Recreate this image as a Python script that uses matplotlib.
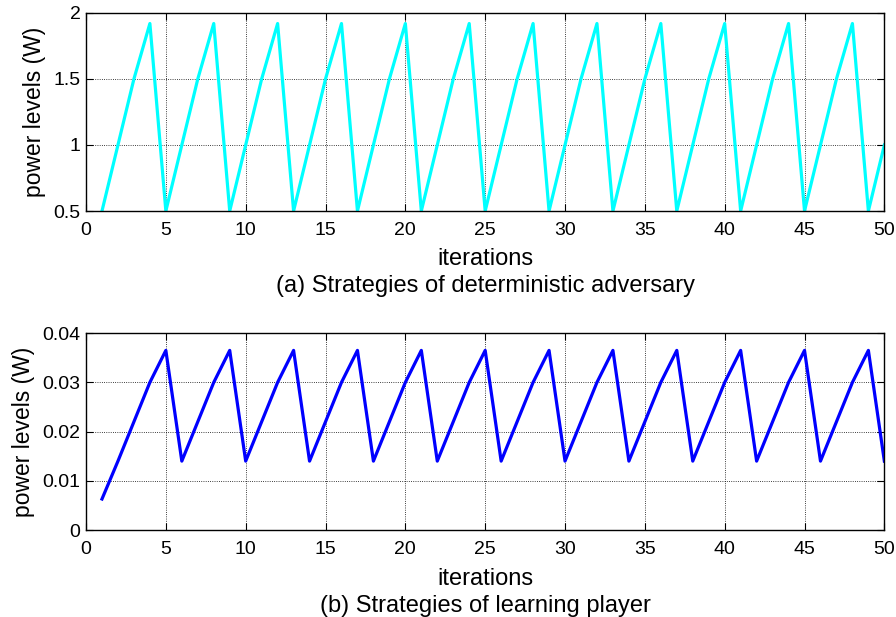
import numpy as np
import matplotlib.pyplot as plt

plt.rcParams['font.family'] = ['Liberation Sans', 'DejaVu Sans']

iters = np.arange(1, 51)

# deterministic adversary: repeating 4-step ramp
adv_cycle = [0.5, 1.0, 1.5, 1.92]
adversary = [adv_cycle[(i - 1) % 4] for i in iters]

# learning player: first value, then a repeating ramp from iteration 2
player_first = 0.0063
player_cycle = [0.014, 0.022, 0.030, 0.0365]
player = [player_first] + [player_cycle[(i - 2) % 4] for i in iters[1:]]

xticks = np.arange(0, 51, 5)
adv_yticks = [0.5, 1, 1.5, 2]
adv_ylabels = ['0.5', '1', '1.5', '2']
pl_yticks = [0, 0.01, 0.02, 0.03, 0.04]
pl_ylabels = ['0', '0.01', '0.02', '0.03', '0.04']

fig = plt.figure(figsize=(8.96, 6.17), dpi=100)
ax1 = fig.add_axes([0.096, 0.658, 0.891, 0.321])
ax2 = fig.add_axes([0.096, 0.141, 0.891, 0.319])

panels = [
    (ax1, adversary, (0, 1, 1), (0.5, 2), adv_yticks, adv_ylabels,
     '(a) Strategies of deterministic adversary', 0.5705, 0.5267),
    (ax2, player, (0, 0, 1), (0, 0.04), pl_yticks, pl_ylabels,
     '(b) Strategies of learning player', 0.0519, 0.0081),
]

for ax, y, col, ylim, yt, ytl, cap, y_it, y_cap in panels:
    ax.plot(iters, y, color=col, lw=2.3)
    ax.set_xlim(0, 50)
    ax.set_ylim(*ylim)
    ax.set_xticks(xticks)
    ax.set_yticks(yt)
    ax.set_yticklabels(ytl)
    ax.grid(True, color='black', linestyle=':', linewidth=0.6)
    ax.tick_params(direction='in', top=True, right=True, length=5,
                   labelsize=14)
    ax.tick_params(axis='x', pad=8)
    ax.tick_params(axis='y', pad=4)
    for s in ax.spines.values():
        s.set_linewidth(1.0)
    ax.set_ylabel('power levels (W)', fontsize=16.5, labelpad=5)
    xc = 0.096 + 0.891 / 2
    fig.text(xc, y_it, 'iterations', ha='center', va='baseline', fontsize=17)
    fig.text(xc, y_cap, cap, ha='center', va='baseline', fontsize=17)

fig.savefig('out.png', dpi=100)
